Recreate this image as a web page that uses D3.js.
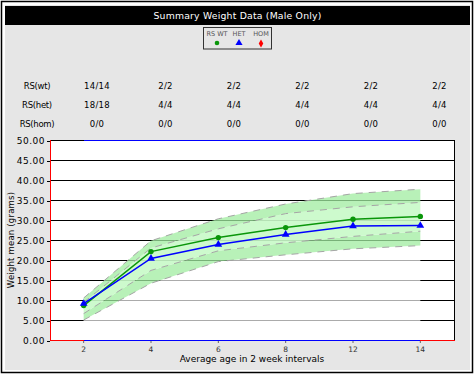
<!DOCTYPE html>
<html>
<head>
<meta charset="utf-8">
<script src="https://cdn.jsdelivr.net/npm/d3@7"></script>
<style>
  body { margin: 0; background: #fff; }
  svg { display: block; font-family: "DejaVu Sans", sans-serif; }
  .crisp { shape-rendering: crispEdges; }
</style>
</head>
<body>
<svg id="chart" width="475" height="375"></svg>
<script>
// age groups (weeks)
const ages = ["2", "4", "6", "8", "12", "14"];

// mean weights
const wtMean = [8.6, 22.1, 25.6, 28.1, 30.2, 30.9];
const hetMean = [9.1, 20.4, 23.9, 26.4, 28.5, 28.6];

// reference range bands
const outerLow = [5.0, 14.2, 19.6, 21.3, 22.8, 23.6];
const innerLow = [6.6, 17.4, 22.3, 24.3, 25.9, 27.2];
const innerHigh = [9.4, 23.0, 27.8, 31.6, 33.3, 34.4];
const outerHigh = [10.5, 24.8, 30.3, 34.0, 36.6, 37.7];

// count table
const tableRows = ["RS(wt)", "RS(het)", "RS(hom)"];
const wtCounts = ["14/14", "2/2", "2/2", "2/2", "2/2", "2/2"];
const hetCounts = ["18/18", "4/4", "4/4", "4/4", "4/4", "4/4"];
const homCounts = ["0/0", "0/0", "0/0", "0/0", "0/0", "0/0"];

const legendNames = ["RS WT", "HET", "HOM"];
const yTicks = d3.range(0, 51, 5);

const svg = d3.select("#chart");

// frame, panel and title bar
svg.append("rect").attr("x", 1.5).attr("y", 1.5).attr("width", 471).attr("height", 371)
  .attr("fill", "#fff").attr("stroke", "#000").attr("stroke-width", 1.5);
svg.append("rect").attr("x", 5).attr("y", 5).attr("width", 465).attr("height", 365)
  .attr("fill", "#e6e6e6");
svg.append("rect").attr("x", 5).attr("y", 6).attr("width", 465).attr("height", 19)
  .attr("fill", "#000");
svg.append("text").attr("x", 237.5).attr("y", 19).attr("text-anchor", "middle")
  .attr("fill", "#fff").style("font-size", "9.3px").style("letter-spacing", "0.2px")
  .text("Summary Weight Data (Male Only)");

// legend
const legend = svg.append("g");
legend.append("rect").attr("x", 203.5).attr("y", 27.5).attr("width", 68).attr("height", 21.5)
  .attr("fill", "none").attr("stroke", "#333");
const legX = [217, 239, 261];
legend.selectAll("text").data(legendNames).join("text")
  .attr("x", (d, i) => legX[i]).attr("y", 36).attr("text-anchor", "middle")
  .attr("fill", "#555").style("font-size", "6.5px").text(d => d);
legend.append("circle").attr("cx", legX[0]).attr("cy", 43).attr("r", 2.3).attr("fill", "#0a960a");
legend.append("path").attr("d", d3.symbol(d3.symbolTriangle, 22)())
  .attr("transform", `translate(${legX[1]},43)`).attr("fill", "#0000ff");
legend.append("path").attr("d", d3.symbol(d3.symbolDiamond, 18)())
  .attr("transform", `translate(${legX[2]},43.5)`).attr("fill", "#ff0000");

// scales
const x = d3.scaleBand().domain(ages).range([50, 454]);
const cx = d => x(d) + x.bandwidth() / 2;
const y = d3.scaleLinear().domain([0, 50]).range([340, 140]);
const yl = d => Math.round(y(d)) + 0.5;

// table
const colX = [97, 165.5, 234, 302.5, 371, 439.5];
const rowY = [89, 107.5, 126.5];
[wtCounts, hetCounts, homCounts].forEach((row, r) => {
  svg.append("text").attr("x", 37).attr("y", rowY[r]).attr("text-anchor", "middle")
    .style("font-size", "8.5px").style("letter-spacing", "-0.3px").text(tableRows[r]);
  svg.append("g").selectAll("text").data(row).join("text")
    .attr("x", (d, i) => colX[i]).attr("y", rowY[r]).attr("text-anchor", "middle")
    .style("font-size", "8.5px").style("letter-spacing", "0.3px").text(d => d);
});

// plot background and grid
svg.append("rect").attr("x", 50).attr("y", 140).attr("width", 404).attr("height", 200).attr("fill", "#fff");
svg.append("g").selectAll("line").data(yTicks.filter(d => d > 0 && d < 50)).join("line")
  .attr("class", "crisp")
  .attr("x1", 50).attr("x2", 454).attr("y1", d => yl(d)).attr("y2", d => yl(d))
  .attr("stroke", "#000").attr("stroke-width", 1);

const idx = d3.range(ages.length);
const band = (lo, hi) => d3.area().x(i => cx(ages[i])).y0(i => y(lo[i])).y1(i => y(hi[i]))(idx);
const zero = ages.map(() => 0);

svg.append("path").attr("d", band(zero, outerLow)).attr("fill", "#fff").attr("fill-opacity", 0.67);
svg.append("path").attr("d", band(outerLow, innerLow)).attr("fill", "rgb(160,236,160)").attr("fill-opacity", 0.75);
svg.append("path").attr("d", band(innerLow, innerHigh)).attr("fill", "rgb(200,250,200)").attr("fill-opacity", 0.9);
svg.append("path").attr("d", band(innerHigh, outerHigh)).attr("fill", "rgb(160,236,160)").attr("fill-opacity", 0.75);

const lineOf = vals => d3.line().x(i => cx(ages[i])).y(i => y(vals[i]))(idx);
[outerLow, innerLow, innerHigh, outerHigh].forEach(vals => {
  svg.append("path").attr("d", lineOf(vals)).attr("fill", "none")
    .attr("stroke", "#a5a5a5").attr("stroke-width", 1).attr("stroke-dasharray", "7,6");
});

// borders and axes lines
const x0 = cx(ages[0]), x1 = cx(ages[ages.length - 1]);
const hLine = (xa, xb, yy, col) => svg.append("line").attr("class", "crisp")
  .attr("x1", xa).attr("x2", xb).attr("y1", yy).attr("y2", yy).attr("stroke", col);
hLine(50, 454, 140.5, "#000");
hLine(x0, x1, 140.5, "#0000ff");
hLine(50, 455, 340.5, "#ff0000");
hLine(x0, x1, 340.5, "#0000ff");
svg.append("line").attr("class", "crisp").attr("x1", 454.5).attr("x2", 454.5).attr("y1", 140).attr("y2", 340).attr("stroke", "#000");
svg.append("line").attr("class", "crisp").attr("x1", 50.5).attr("x2", 50.5).attr("y1", 140).attr("y2", 341).attr("stroke", "#ff0000");

// y axis
const yAxis = svg.append("g").attr("transform", "translate(50,0.5)")
  .call(d3.axisLeft(y).tickValues(yTicks).tickFormat(d3.format(".2f")).tickSize(3).tickPadding(2));
yAxis.select(".domain").remove();
yAxis.selectAll("line").attr("class", "crisp");
yAxis.selectAll("text").style("font-family", "DejaVu Sans").style("font-size", "9px")
  .style("letter-spacing", "0.5px").attr("fill", "#000");

// x axis
const xAxis = svg.append("g").attr("transform", "translate(0,341)")
  .call(d3.axisBottom(x).tickSize(2).tickPadding(4));
xAxis.select(".domain").remove();
xAxis.selectAll("line").attr("stroke", "#666");
xAxis.selectAll("text").style("font-family", "DejaVu Sans").style("font-size", "7.5px").attr("fill", "#333");

// axis titles
svg.append("text").attr("x", 252).attr("y", 362).attr("text-anchor", "middle")
  .style("font-size", "9px").text("Average age in 2 week intervals");
svg.append("text").attr("transform", "translate(14,240) rotate(-90)").attr("text-anchor", "middle")
  .style("font-size", "8.5px").style("letter-spacing", "0.2px").text("Weight mean (grams)");

// series
const series = [
  { vals: wtMean, color: "#0a960a", sym: "circle" },
  { vals: hetMean, color: "#0000ff", sym: "triangle" }
];
series.forEach(s => {
  svg.append("path").attr("d", lineOf(s.vals)).attr("fill", "none")
    .attr("stroke", s.color).attr("stroke-width", 1.5);
  if (s.sym === "circle") {
    svg.append("g").selectAll("circle").data(s.vals).join("circle")
      .attr("cx", (d, i) => cx(ages[i])).attr("cy", d => y(d)).attr("r", 2.7).attr("fill", s.color);
  } else {
    svg.append("g").selectAll("path").data(s.vals).join("path")
      .attr("d", d3.symbol(d3.symbolTriangle, 26)())
      .attr("transform", (d, i) => `translate(${cx(ages[i])},${y(d)})`).attr("fill", s.color);
  }
});
</script>
</body>
</html>
